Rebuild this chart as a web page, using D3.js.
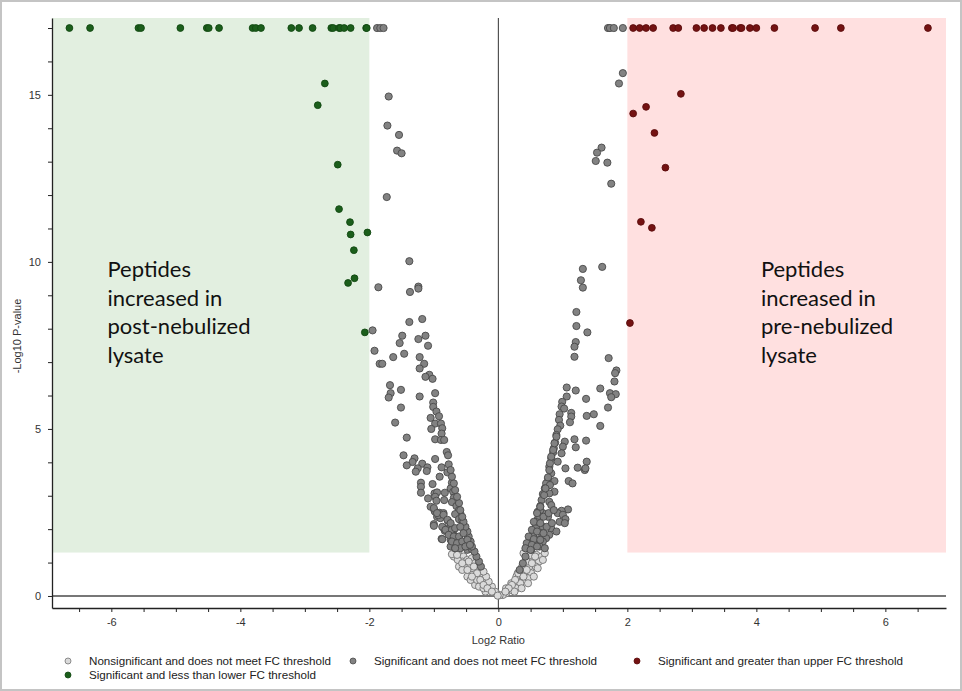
<!DOCTYPE html>
<html>
<head>
<meta charset="utf-8">
<script src="https://cdn.jsdelivr.net/npm/d3@7/dist/d3.min.js"></script>
<style>
  body { margin: 0; background: #fff; }
  svg { display: block; }
</style>
</head>
<body>
<script>
const WIDTH = 962;
const HEIGHT = 691;
const CAP = 17;          // points with p-value off the scale sit on this row
const P_CUT = 1.3;       // -log10(0.05)
const FC_CUT = 2;

// significant, below lower FC threshold (green)
const downCapped = [-6.65, -6.33, -5.58, -5.54, -4.93, -4.52, -4.49, -4.33, -3.81, -3.76, -3.68,
  -3.21, -3.09, -2.88, -2.59, -2.56, -2.47, -2.45, -2.39, -2.29, -2.05, -2.04];
const downPts = [[-2.69, 15.34], [-2.80, 14.69], [-2.49, 12.91], [-2.47, 11.58], [-2.30, 11.19],
  [-2.29, 10.82], [-2.03, 10.88], [-2.24, 10.35], [-2.23, 9.51], [-2.33, 9.37], [-2.07, 7.89]];

// significant, above upper FC threshold (red)
const upCapped = [2.09, 2.19, 2.29, 2.40, 2.71, 2.79, 3.07, 3.19, 3.32, 3.45, 3.62, 3.64, 3.75,
  3.77, 3.90, 4.00, 4.28, 4.91, 5.31, 6.66];
const upPts = [[2.83, 15.03], [2.29, 14.64], [2.09, 14.44], [2.42, 13.86], [2.59, 12.82],
  [2.21, 11.20], [2.38, 11.02], [2.04, 8.17]];

// significant, does not meet FC threshold (dark grey)
const sigCapped = [-1.88, -1.83, -1.78, 1.70, 1.73, 1.79, 1.93];
const sigLeft = [
  [-1.70, 14.95], [-1.72, 14.08], [-1.54, 13.80], [-1.57, 13.33], [-1.50, 13.25], [-1.73, 11.94],
  [-1.38, 10.02], [-1.86, 9.24], [-1.24, 9.26], [-1.24, 9.20], [-1.37, 9.10], [-1.18, 8.29],
  [-1.38, 8.20], [-1.95, 7.95], [-1.49, 7.79], [-1.13, 7.79], [-1.24, 7.69], [-1.53, 7.57],
  [-1.09, 7.49], [-1.92, 7.34], [-1.63, 7.15], [-1.46, 7.25], [-1.22, 7.15], [-1.84, 6.95],
  [-1.80, 6.95], [-1.15, 6.95], [-1.22, 6.81], [-1.07, 6.62], [-1.13, 6.56], [-1.02, 6.50],
  [-1.68, 6.31], [-1.51, 6.17], [-1.67, 6.07], [-1.70, 5.94], [-1.22, 5.97], [-0.98, 6.07],
  [-1.01, 5.79], [-1.01, 5.66], [-1.51, 5.64], [-0.96, 5.52], [-0.92, 5.38], [-1.05, 5.33],
  [-1.60, 5.19], [-0.98, 5.16], [-0.89, 5.16], [-0.87, 5.02], [-1.04, 5.00], [-0.88, 4.86],
  [-1.42, 4.74], [-0.98, 4.69], [-0.89, 4.67], [-0.84, 4.67], [-0.80, 4.31], [-0.78, 4.21],
  [-1.47, 4.21], [-0.98, 4.10], [-1.30, 4.12], [-1.33, 4.01], [-1.42, 3.91], [-1.18, 3.96],
  [-1.10, 3.85], [-0.88, 3.85], [-0.77, 3.94], [-1.25, 3.82], [-1.28, 3.72], [-1.11, 3.74],
  [-0.79, 3.70], [-0.91, 3.57], [-1.20, 3.39], [-1.02, 3.35], [-0.72, 3.39], [-1.20, 3.27],
  [-0.74, 3.22], [-0.70, 3.12], [-1.20, 3.09], [-0.99, 3.07], [-0.95, 3.10], [-0.83, 3.09],
  [-0.98, 2.97], [-1.09, 2.92], [-0.69, 2.94], [-0.96, 2.85], [-0.84, 2.87], [-0.72, 2.81],
  [-0.65, 2.69], [-0.61, 2.57], [-0.99, 2.55], [-0.91, 2.49], [-0.85, 2.48], [-0.59, 2.48],
  [-0.95, 2.37], [-0.90, 2.33], [-0.78, 2.25], [-0.67, 2.45], [-0.61, 2.30], [-0.56, 2.28],
  [-1.00, 2.15], [-0.85, 2.04], [-0.74, 2.07], [-0.69, 1.98], [-0.54, 2.10], [-0.83, 1.95],
  [-0.78, 1.93], [-0.51, 1.98], [-0.88, 1.71], [-0.74, 1.68], [-0.67, 1.78], [-0.61, 1.73],
  [-0.69, 1.63], [-0.48, 1.83], [-0.46, 1.68], [-0.59, 1.58], [-0.54, 1.53], [-0.74, 1.48],
  [-0.67, 1.43], [-0.43, 1.53], [-0.48, 1.38], [-0.41, 1.40], [-1.05, 2.67], [-0.98, 2.52],
  [-0.93, 2.42], [-1.00, 2.10], [-0.87, 1.70],
  [-0.27, 0.88], [-0.30, 1.03], [-0.34, 1.18], [-0.37, 1.33], [-0.41, 1.48], [-0.43, 1.63],
  [-0.46, 1.78], [-0.48, 1.93], [-0.51, 2.07], [-0.54, 2.22], [-0.56, 2.37], [-0.59, 2.57],
  [-0.61, 2.78], [-0.64, 2.97], [-0.67, 3.17], [-0.69, 3.37], [-0.72, 3.57], [-0.74, 3.77],
  [-1.00, 2.63], [-0.95, 2.48], [-0.85, 2.43], [-0.79, 2.28], [-0.74, 2.18], [-0.87, 2.07],
  [-0.82, 1.98], [-0.72, 1.98], [-0.67, 2.03], [-0.59, 2.07], [-0.77, 1.83], [-0.69, 1.78],
  [-0.61, 1.78], [-0.54, 1.88], [-0.72, 1.63], [-0.64, 1.58], [-0.56, 1.63], [-0.48, 1.68],
  [-0.59, 1.43], [-0.51, 1.48], [-0.44, 1.53], [-0.67, 1.43]
];
const sigRight = [
  [1.93, 15.65], [1.87, 15.34], [1.60, 13.42], [1.53, 13.27], [1.51, 13.02], [1.69, 12.97],
  [1.75, 12.34], [1.31, 9.79], [1.61, 9.85], [1.28, 9.45], [1.31, 9.23], [1.21, 8.50],
  [1.21, 8.08], [1.38, 7.89], [1.20, 7.60], [1.18, 7.46], [1.18, 7.16], [1.71, 7.12],
  [1.83, 6.75], [1.81, 6.67], [1.80, 6.42], [1.06, 6.24], [1.20, 6.15], [1.58, 6.21],
  [1.06, 5.97], [1.36, 5.90], [1.73, 6.07], [1.82, 6.04], [1.75, 5.95], [0.99, 5.81],
  [0.98, 5.67], [1.02, 5.61], [1.70, 5.64], [1.13, 5.48], [1.13, 5.37], [0.95, 5.44],
  [1.48, 5.44], [1.37, 5.39], [0.94, 5.27], [1.11, 5.20], [0.96, 5.10], [1.58, 5.09],
  [0.92, 4.99], [0.90, 4.82], [1.03, 4.62], [1.18, 4.69], [1.36, 4.65], [0.88, 4.59],
  [0.86, 4.42], [1.00, 4.47], [1.20, 4.45], [0.85, 4.30], [0.98, 4.27], [0.82, 4.12],
  [0.92, 4.02], [1.37, 4.02], [1.23, 3.84], [1.34, 3.77], [1.35, 3.82], [1.04, 3.82],
  [0.79, 3.87], [0.82, 3.67], [0.77, 3.52], [1.09, 3.44], [1.15, 3.37], [0.74, 3.37],
  [0.87, 3.44], [0.80, 3.32], [0.72, 3.22], [0.87, 3.12], [0.79, 3.07], [0.69, 3.05],
  [0.67, 2.87], [0.79, 2.82], [0.82, 2.72], [0.65, 2.69], [1.08, 2.59], [0.98, 2.55],
  [0.61, 2.52], [0.69, 2.48], [0.92, 2.48], [1.00, 2.43], [0.77, 2.37], [0.61, 2.30],
  [1.04, 2.30], [0.95, 2.22], [1.03, 2.18], [0.59, 2.13], [0.69, 2.07], [0.82, 2.02],
  [0.90, 1.93], [0.56, 1.93], [0.67, 1.88], [0.79, 1.83], [0.74, 1.73], [0.54, 1.78],
  [0.61, 1.68], [0.48, 1.63], [0.69, 1.63], [0.56, 1.53], [0.46, 1.48], [0.64, 1.48],
  [0.51, 1.38], [0.72, 1.43],
  [0.33, 0.78], [0.38, 0.98], [0.42, 1.18], [0.48, 1.56], [0.53, 1.73], [0.55, 1.88],
  [0.58, 2.06], [0.60, 2.22], [0.63, 2.40], [0.65, 2.57], [0.71, 3.02], [0.73, 3.22],
  [0.77, 3.55], [0.79, 3.77], [0.80, 3.97], [0.82, 4.17], [0.85, 4.37], [0.87, 4.57], [0.90, 4.77],
  [0.65, 2.67], [0.60, 2.48], [0.70, 2.37], [0.78, 2.48], [0.86, 2.57], [0.55, 2.22],
  [0.65, 2.18], [0.75, 2.07], [0.83, 2.18], [0.52, 1.98], [0.60, 1.93], [0.70, 1.88],
  [0.47, 1.78], [0.55, 1.70], [0.65, 1.68], [0.44, 1.58], [0.52, 1.53], [0.60, 1.48],
  [0.42, 1.43], [0.50, 1.38]
];

// nonsignificant, does not meet FC threshold (light grey)
const nonSig = [
  [-0.69, 1.18], [-0.61, 1.23], [-0.54, 1.18], [-0.56, 1.03], [-0.48, 1.08], [-0.41, 1.13],
  [-0.51, 0.88], [-0.43, 0.90], [-0.36, 0.98], [-0.38, 0.78], [-0.31, 0.83], [-0.41, 0.63],
  [-0.32, 0.63], [-0.25, 0.68], [-0.28, 0.48], [-0.20, 0.53], [-0.23, 0.33], [-0.17, 0.36],
  [-0.12, 0.23], [-0.07, 0.13], [-0.02, 0.06], [-0.72, 1.25], [-0.61, 0.88], [-0.48, 0.58],
  [-0.36, 0.33], [-0.20, 0.13], [-0.63, 1.08], [-0.56, 0.78], [-0.43, 0.48], [-0.30, 0.28],
  [-0.33, 0.48], [-0.23, 0.23], [-0.05, 0.13], [-0.10, 0.28], [-0.15, 0.43], [-0.19, 0.58],
  [-0.23, 0.73], [-0.64, 1.23], [-0.46, 1.03], [-0.56, 0.98], [-0.38, 0.88], [-0.48, 0.78],
  [-0.33, 0.68], [-0.41, 0.58], [-0.28, 0.48], [-0.23, 0.33], [-0.17, 0.23], [-0.10, 0.13],
  [0.48, 1.23], [0.59, 1.23], [0.67, 1.18], [0.43, 1.13], [0.54, 1.08], [0.63, 1.03],
  [0.41, 0.98], [0.48, 0.88], [0.58, 0.88], [0.36, 0.83], [0.43, 0.73], [0.51, 0.68],
  [0.30, 0.68], [0.38, 0.58], [0.46, 0.53], [0.28, 0.48], [0.34, 0.38], [0.23, 0.33],
  [0.28, 0.23], [0.19, 0.18], [0.12, 0.08], [0.07, 0.03], [0.72, 1.28], [0.69, 1.08],
  [0.61, 0.83], [0.55, 0.58], [0.46, 0.38], [0.36, 0.23], [0.25, 0.13], [0.12, 0.23],
  [0.20, 0.38], [0.28, 0.58], [0.02, 0.02], [-0.01, 0.01], [0.39, 1.28], [0.50, 1.23],
  [0.57, 1.18], [0.44, 1.03], [0.52, 0.98], [0.37, 0.88], [0.44, 0.78], [0.31, 0.68],
  [0.39, 0.58], [0.26, 0.48], [0.21, 0.33], [0.16, 0.23], [0.11, 0.13]
];

const xTickLabels = [-6, -4, -2, 0, 2, 4, 6];
const yTickLabels = [0, 5, 10, 15];

const legendItems = [
  { label: 'Nonsignificant and does not meet FC threshold', key: 'nonsig' },
  { label: 'Significant and does not meet FC threshold', key: 'sig' },
  { label: 'Significant and greater than upper FC threshold', key: 'up' },
  { label: 'Significant and less than lower FC threshold', key: 'down' }
];
const annotations = [
  { x: -6.06, lines: ['Peptides', 'increased in', 'post-nebulized', 'lysate'] },
  { x: 4.07, lines: ['Peptides', 'increased in', 'pre-nebulized', 'lysate'] }
];

const STYLE = {
  nonsig: { fill: '#dadada', stroke: '#737373', r: 3.6 },
  sig:    { fill: '#828282', stroke: '#4a4a4a', r: 3.6 },
  up:     { fill: '#741212', stroke: '#5a0c0c', r: 3.4 },
  down:   { fill: '#1b5e1b', stroke: '#124812', r: 3.4 }
};

// legend layout: marker centre and text width
const LEGEND_LAYOUT = [[68, 661, 242], [353, 661, 223], [637, 661, 245], [68, 675, 227]];

const x = d3.scaleLinear().domain([-6.92, 6.94]).range([52, 946]);
const y = d3.scaleLinear().domain([-0.36, 17.3]).range([608, 18]);

const svg = d3.select('body').append('svg')
  .attr('width', WIDTH)
  .attr('height', HEIGHT);

svg.append('rect')
  .attr('x', 1).attr('y', 1)
  .attr('width', WIDTH - 2).attr('height', HEIGHT - 2)
  .attr('fill', '#fff')
  .attr('stroke', '#c4c4c4')
  .attr('stroke-width', 2);

// threshold regions
svg.append('rect')
  .attr('x', x(-6.92)).attr('y', y(17.3))
  .attr('width', x(-FC_CUT) - x(-6.92))
  .attr('height', y(P_CUT) - y(17.3))
  .attr('fill', '#e2efe0');
svg.append('rect')
  .attr('x', x(FC_CUT)).attr('y', y(17.3))
  .attr('width', x(6.94) - x(FC_CUT))
  .attr('height', y(P_CUT) - y(17.3))
  .attr('fill', '#ffe0e0');

// annotations
annotations.forEach(a => {
  svg.append('text')
    .attr('x', x(a.x))
    .attr('y', 277)
    .attr('font-family', 'Lato, "Open Sans", sans-serif')
    .attr('font-size', '22px')
    .attr('fill', '#111')
    .selectAll('tspan')
    .data(a.lines)
    .enter()
    .append('tspan')
    .attr('x', x(a.x))
    .attr('dy', (d, i) => i === 0 ? 0 : 28.7)
    .text(d => d);
});

// zero lines
svg.append('line')
  .attr('x1', 52).attr('x2', 946)
  .attr('y1', y(0)).attr('y2', y(0))
  .attr('stroke', '#4a4a4a').attr('stroke-width', 1.5);
svg.append('line')
  .attr('x1', x(0)).attr('x2', x(0))
  .attr('y1', 18).attr('y2', 608)
  .attr('stroke', '#333').attr('stroke-width', 1);

// axes
const xAxis = d3.axisBottom(x)
  .tickValues(d3.range(-6.5, 6.51, 0.5))
  .tickSize(4)
  .tickSizeOuter(0)
  .tickPadding(6)
  .tickFormat(d => xTickLabels.includes(d) ? String(d) : '');
const gx = svg.append('g').attr('transform', 'translate(0,608)').call(xAxis);

const yAxis = d3.axisLeft(y)
  .tickValues(d3.range(0, 18, 1))
  .tickSize(4)
  .tickSizeOuter(0)
  .tickPadding(7)
  .tickFormat(d => yTickLabels.includes(d) ? String(d) : '');
const gy = svg.append('g').attr('transform', 'translate(52,0)').call(yAxis);

[gx, gy].forEach(g => {
  g.selectAll('text')
    .attr('font-family', '"Liberation Sans", Arial, sans-serif')
    .attr('font-size', '11px')
    .attr('fill', '#333');
  g.selectAll('line').attr('stroke', '#222');
  g.select('.domain').attr('stroke', '#222').attr('stroke-width', 1.3);
});

svg.append('text')
  .attr('x', x(0)).attr('y', 644)
  .attr('text-anchor', 'middle')
  .attr('font-family', '"Liberation Sans", Arial, sans-serif')
  .attr('font-size', '11px')
  .attr('fill', '#333')
  .text('Log2 Ratio');
svg.append('text')
  .attr('transform', 'translate(21,336) rotate(-90)')
  .attr('text-anchor', 'middle')
  .attr('font-family', '"Liberation Sans", Arial, sans-serif')
  .attr('font-size', '11px')
  .attr('fill', '#333')
  .text('-Log10 P-value');

// points
function drawSeries(data, key) {
  const s = STYLE[key];
  svg.append('g').selectAll('circle')
    .data(data)
    .enter()
    .append('circle')
    .attr('cx', d => x(d[0]))
    .attr('cy', d => y(d[1]))
    .attr('r', s.r)
    .attr('fill', s.fill)
    .attr('stroke', s.stroke)
    .attr('stroke-width', 0.9);
}

drawSeries(nonSig, 'nonsig');
drawSeries(sigCapped.map(v => [v, CAP]).concat(sigLeft, sigRight), 'sig');
drawSeries(upCapped.map(v => [v, CAP]).concat(upPts), 'up');
drawSeries(downCapped.map(v => [v, CAP]).concat(downPts), 'down');

// legend
const lg = svg.append('g');
legendItems.forEach((item, i) => {
  const s = STYLE[item.key];
  const [lx, ly, tw] = LEGEND_LAYOUT[i];
  lg.append('circle')
    .attr('cx', lx).attr('cy', ly)
    .attr('r', 3)
    .attr('fill', s.fill)
    .attr('stroke', s.stroke)
    .attr('stroke-width', 0.8);
  lg.append('text')
    .attr('x', lx + 21).attr('y', ly + 4)
    .attr('font-family', '"Liberation Sans", Arial, sans-serif')
    .attr('font-size', '11.5px')
    .attr('fill', '#222')
    .attr('textLength', tw)
    .attr('lengthAdjust', 'spacingAndGlyphs')
    .text(item.label);
});
</script>
</body>
</html>
